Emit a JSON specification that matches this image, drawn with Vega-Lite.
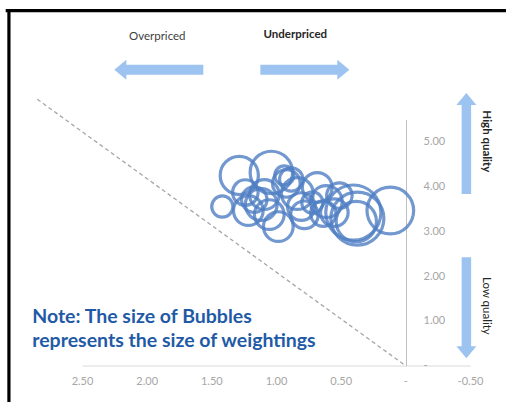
{
  "$schema": "https://vega.github.io/schema/vega-lite/v6.json",
  "width": 388,
  "height": 246,
  "autosize": {"type": "none"},
  "padding": {"left": 82, "top": 119.5, "right": 36, "bottom": 36.5},
  "background": "white",
  "config": {"view": {"stroke": null}, "font": "Lato"},
  "datasets": {
    "bubbles": [
      {"x": 1.415, "y": 3.554, "w": 1.0},
      {"x": 1.284, "y": 4.249, "w": 3.24},
      {"x": 1.036, "y": 4.316, "w": 4.0},
      {"x": 1.214, "y": 3.464, "w": 1.96},
      {"x": 1.114, "y": 3.599, "w": 2.25},
      {"x": 1.168, "y": 3.711, "w": 1.44},
      {"x": 0.982, "y": 3.105, "w": 1.96},
      {"x": 0.920, "y": 4.070, "w": 1.69},
      {"x": 0.936, "y": 4.249, "w": 0.81},
      {"x": 0.882, "y": 4.159, "w": 1.21},
      {"x": 0.835, "y": 3.845, "w": 2.25},
      {"x": 1.090, "y": 3.823, "w": 1.96},
      {"x": 0.804, "y": 3.554, "w": 1.69},
      {"x": 0.681, "y": 3.980, "w": 1.96},
      {"x": 0.719, "y": 3.643, "w": 1.0},
      {"x": 0.611, "y": 3.666, "w": 2.25},
      {"x": 0.549, "y": 3.419, "w": 1.69},
      {"x": 0.634, "y": 3.397, "w": 1.44},
      {"x": 0.402, "y": 3.419, "w": 6.76},
      {"x": 0.379, "y": 3.217, "w": 3.61},
      {"x": 0.371, "y": 3.285, "w": 6.25},
      {"x": 0.116, "y": 3.464, "w": 4.84},
      {"x": 1.237, "y": 3.868, "w": 1.44},
      {"x": 1.052, "y": 3.374, "w": 1.96},
      {"x": 0.780, "y": 3.370, "w": 1.69},
      {"x": 0.510, "y": 3.800, "w": 1.44}
    ],
    "diag": [{"x": 0, "y": 0}, {"x": 2.846, "y": 5.953}],
    "frame": [
      {"x": 3.09, "x2": -0.8, "y": 7.933, "y2": 7.933},
      {"x": 3.065, "x2": 3.065, "y": 7.97, "y2": -0.9}
    ],
    "arrows": [
      {"x": 1.906, "y": 6.614, "dir": "left"},
      {"x": 0.777, "y": 6.614, "dir": "right"},
      {"x": -0.472, "y": 4.966, "dir": "up"},
      {"x": -0.472, "y": 1.289, "dir": "down"}
    ],
    "over": [{"x": 1.918, "y": 7.343, "t": "Overpriced"}],
    "under": [{"x": 0.851, "y": 7.388, "t": "Underpriced"}],
    "high": [{"x": -0.626, "y": 5.011, "t": "High quality"}],
    "low": [{"x": -0.626, "y": 1.334, "t": "Low quality"}],
    "note": [
      {"x": 2.885, "y": 1.076, "t": "Note: The size of Bubbles"},
      {"x": 2.885, "y": 0.556, "t": "represents the size of weightings"}
    ]
  },
  "encoding": {
    "x": {
      "field": "x", "type": "quantitative",
      "scale": {"domain": [-0.5, 2.5], "reverse": true, "nice": false, "zero": false},
      "axis": {
        "title": null, "values": [-0.5, 0, 0.5, 1, 1.5, 2, 2.5],
        "labelExpr": "datum.value == 0 ? '-' : (datum.value < 0 ? '-' + format(-datum.value, '.2f') : format(datum.value, '.2f'))",
        "grid": false, "ticks": false, "domainColor": "#d9d9d9", "labelColor": "#a6a6a6",
        "labelFontSize": 11, "labelPadding": 10, "labelOverlap": false, "labelFlush": false, "labelBound": false
      }
    },
    "y": {
      "field": "y", "type": "quantitative",
      "scale": {"domain": [0, 5.5], "nice": false, "zero": false},
      "axis": {
        "orient": "right", "offset": -64, "title": null, "values": [0, 1, 2, 3, 4, 5],
        "labelExpr": "datum.value == 0 ? '-' : format(datum.value, '.2f')",
        "grid": false, "ticks": false, "domainColor": "#bfbfbf", "labelColor": "#a6a6a6",
        "labelFontSize": 11, "labelPadding": 17, "labelOverlap": false, "labelFlush": false, "labelBound": false
      }
    }
  },
  "layer": [
    {
      "data": {"name": "frame"},
      "mark": {"type": "rule", "color": "black", "strokeWidth": 3.2, "clip": false},
      "encoding": {"x2": {"field": "x2"}, "y2": {"field": "y2"}}
    },
    {
      "data": {"name": "diag"},
      "mark": {"type": "line", "color": "#a6a6a6", "strokeDash": [4, 3], "strokeWidth": 1.3, "clip": false},
      "encoding": {}
    },
    {
      "data": {"name": "bubbles"},
      "mark": {"type": "point", "shape": "circle", "filled": false, "strokeWidth": 3.2, "color": "#4f7fc4", "opacity": 0.8, "clip": false},
      "encoding": {
        "size": {"field": "w", "type": "quantitative", "scale": {"domain": [0, 10], "range": [0, 4500]}, "legend": null}
      }
    },
    {
      "data": {"name": "arrows"},
      "mark": {"type": "point", "filled": true, "color": "#9dc3f0", "opacity": 1, "size": 10201, "strokeWidth": 0, "clip": false},
      "encoding": {
        "shape": {
          "field": "dir", "type": "nominal", "legend": null,
          "scale": {
            "domain": ["left", "right", "up", "down"],
            "range": [
              "M 0.881 -0.099 L -0.643 -0.099 L -0.643 -0.198 L -0.881 0 L -0.643 0.198 L -0.643 0.099 L 0.881 0.099 Z",
              "M -0.881 -0.099 L 0.643 -0.099 L 0.643 -0.198 L 0.881 0 L 0.643 0.198 L 0.643 0.099 L -0.881 0.099 Z",
              "M -0.094 1 L -0.094 -0.762 L -0.198 -0.762 L 0 -1 L 0.198 -0.762 L 0.094 -0.762 L 0.094 1 Z",
              "M -0.094 -1 L -0.094 0.762 L -0.198 0.762 L 0 1 L 0.198 0.762 L 0.094 0.762 L 0.094 -1 Z"
            ]
          }
        }
      }
    },
    {
      "data": {"name": "over"},
      "mark": {"type": "text", "fontSize": 11.5, "color": "#404040", "align": "center", "baseline": "middle", "clip": false},
      "encoding": {"text": {"field": "t"}}
    },
    {
      "data": {"name": "under"},
      "mark": {"type": "text", "fontSize": 11.5, "fontWeight": "bold", "color": "#262626", "align": "center", "baseline": "middle", "clip": false},
      "encoding": {"text": {"field": "t"}}
    },
    {
      "data": {"name": "high"},
      "mark": {"type": "text", "fontSize": 11.5, "fontWeight": "bold", "color": "#262626", "angle": 90, "align": "center", "baseline": "middle", "clip": false},
      "encoding": {"text": {"field": "t"}}
    },
    {
      "data": {"name": "low"},
      "mark": {"type": "text", "fontSize": 11.5, "color": "#262626", "angle": 90, "align": "center", "baseline": "middle", "clip": false},
      "encoding": {"text": {"field": "t"}}
    },
    {
      "data": {"name": "note"},
      "mark": {"type": "text", "fontSize": 19.5, "fontWeight": "bold", "color": "#1f5aa6", "align": "left", "baseline": "middle", "clip": false},
      "encoding": {"text": {"field": "t"}}
    }
  ]
}
